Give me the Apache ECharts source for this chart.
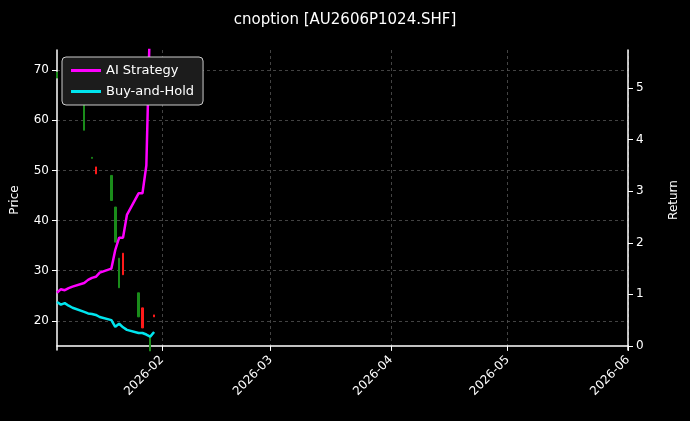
<!DOCTYPE html>
<html>
<head>
<meta charset="utf-8">
<script src="https://cdn.jsdelivr.net/npm/echarts@6/dist/echarts.min.js"></script>
<style>html,body{margin:0;background:#000;}#c{width:690px;height:421px;}</style>
</head>
<body>
<div id="c"></div>
<script>
// fechas de negociación
const dates = ['2026-01-05','2026-01-06','2026-01-07','2026-01-08','2026-01-09',
  '2026-01-12','2026-01-13','2026-01-14','2026-01-15','2026-01-16',
  '2026-01-19','2026-01-20','2026-01-21','2026-01-22','2026-01-23',
  '2026-01-26','2026-01-27','2026-01-28','2026-01-29','2026-01-30'];
// [open, close, low, high]
const candles = [
  [69.6,68.4,68.4,69.6], null, null, null, [70,69.6,65,70],
  [65.4,58,58,65.4], null, [52.6,52.4,52.4,52.6], [49.3,50.7,49.3,50.7], null,
  [49,44,44,49], [42.7,35.7,35.7,42.7], [32.5,26.6,26.6,32.5], [29.2,33.5,29.2,33.5], null,
  [25.6,20.8,20.8,25.6], [18.6,22.6,18.6,22.6], null, [16.8,14,14,16.8], [20.8,21.2,20.8,21.2]
];
const aiReturn = [1.03,1.1,1.08,1.12,1.15,1.22,1.28,1.32,1.34,1.42,1.5,1.86,2.1,2.1,2.54,2.96,2.96,3.5,6.5,7.5];
const bhReturn = [0.85,0.8,0.83,0.78,0.74,0.66,0.63,0.62,0.6,0.56,0.5,0.37,0.43,0.36,0.31,0.25,0.25,0.22,0.18,0.27];
const priceTicks = [20,30,40,50,60,70];
const returnTicks = [0,1,2,3,4,5];
const monthTicks = ['2026-02-01','2026-03-01','2026-04-01','2026-05-01','2026-06-01'];

const ts = d => Date.UTC(+d.slice(0, 4), +d.slice(5, 7) - 1, +d.slice(8, 10));
const candleData = dates.map((d, i) => candles[i] ? [ts(d), ...candles[i]] : [ts(d), '-', '-', '-', '-']);
const monthTs = monthTicks.map(ts);
const grid = { lineStyle: { color: '#555', type: [3, 3], width: 0.8 } };
const fmtMonth = v => {
  const d = new Date(v);
  return d.getUTCFullYear() + '-' + String(d.getUTCMonth() + 1).padStart(2, '0');
};

const chart = echarts.init(document.getElementById('c'));
chart.setOption({
  backgroundColor: '#000',
  animation: false,
  textStyle: { fontFamily: 'DejaVu Sans' },
  title: { text: 'cnoption [AU2606P1024.SHF]', left: 'center', top: 8,
    textStyle: { color: '#fff', fontSize: 15, fontWeight: 'normal' } },
  legend: {
    left: 62, top: 57, orient: 'vertical', itemGap: 8,
    backgroundColor: '#1c1c1c', borderColor: '#ccc', borderWidth: 1, borderRadius: 4, padding: [7, 9],
    icon: 'rect', itemWidth: 30, itemHeight: 3,
    textStyle: { color: '#fff', fontSize: 13 },
    data: ['AI Strategy', 'Buy-and-Hold']
  },
  grid: { left: 57, right: 62, top: 50, bottom: 71 },
  xAxis: {
    type: 'value', min: ts('2026-01-05'), max: ts('2026-06-01'), scale: true,
    axisLine: { lineStyle: { color: '#fff', width: 1.5 } },
    axisTick: { show: true, customValues: monthTs, lineStyle: { color: '#fff' } },
    axisLabel: { customValues: monthTs, rotate: 45, color: '#fff', fontSize: 12, formatter: fmtMonth },
    splitLine: { show: true, ...grid }
  },
  yAxis: [
    { type: 'value', min: 14.2, max: 74, name: 'Price', nameLocation: 'middle', nameGap: 36,
      nameTextStyle: { color: '#fff', fontSize: 12 },
      axisLine: { show: true, lineStyle: { color: '#fff', width: 1.5 } },
      axisTick: { show: true, customValues: priceTicks },
      axisLabel: { customValues: priceTicks, color: '#fff', fontSize: 12 },
      splitLine: { show: true, ...grid } },
    { type: 'value', min: -0.08, max: 5.74, name: 'Return', nameLocation: 'middle', nameGap: 40,
      nameTextStyle: { color: '#fff', fontSize: 12 },
      axisLine: { show: true, lineStyle: { color: '#fff', width: 1.5 } },
      axisTick: { show: true, customValues: returnTicks },
      axisLabel: { customValues: returnTicks, color: '#fff', fontSize: 12 },
      splitLine: { show: false } }
  ],
  series: [
    { name: 'Price', type: 'candlestick', data: candleData, barWidth: 2,
      itemStyle: { color: '#ff1a1a', color0: '#1a8c1a', borderColor: '#ff1a1a', borderColor0: '#1a8c1a' } },
    { name: 'AI Strategy', type: 'line', yAxisIndex: 1, showSymbol: false, clip: true,
      data: dates.map((d, i) => [ts(d), aiReturn[i]]),
      color: '#ff00ff', lineStyle: { width: 2.5 } },
    { name: 'Buy-and-Hold', type: 'line', yAxisIndex: 1, showSymbol: false, clip: true,
      data: dates.map((d, i) => [ts(d), bhReturn[i]]),
      color: '#00e5ee', lineStyle: { width: 2.5 } }
  ]
});
</script>
</body>
</html>
